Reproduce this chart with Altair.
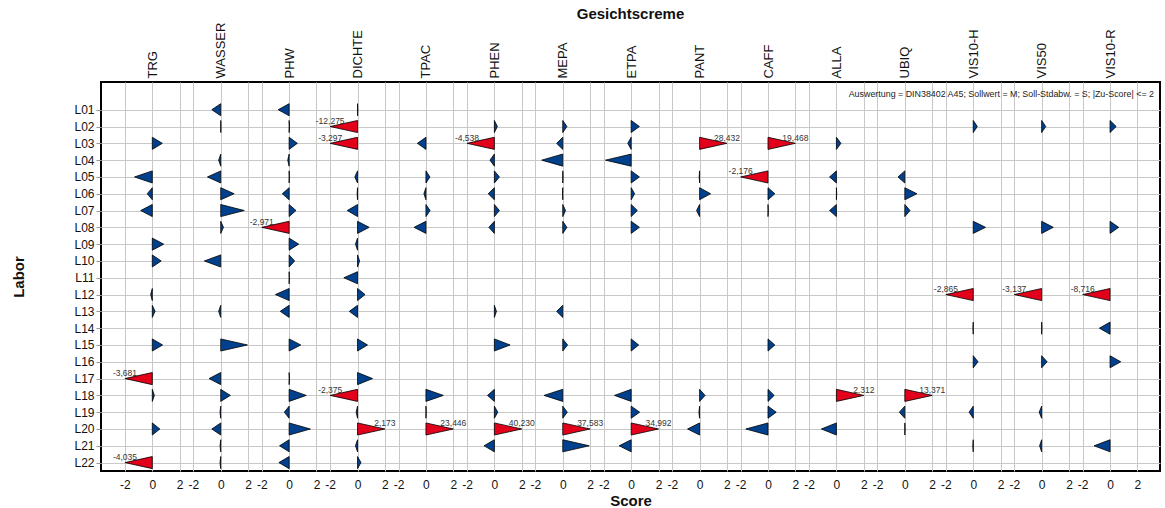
import altair as alt
import pandas as pd

# ---------------- data (z-scores) ----------------
analytes = ["TRG", "WASSER", "PHW", "DICHTE", "TPAC", "PHEN", "MEPA", "ETPA",
            "PANT", "CAFF", "ALLA", "UBIQ", "VIS10-H", "VIS50", "VIS10-R"]
labs = [f"L{i:02d}" for i in range(1, 23)]

N = None
trg    = [N, N, 0.73, N, -1.3, -0.37, -0.85, N, 0.83, 0.65, N, -0.12, 0.2, N, 0.75, N, -3.681, 0.15, N, 0.55, N, -4.035]
wasser = [-0.65, 0.02, N, -0.15, -0.97, 0.98, 1.72, 0.2, N, -1.2, N, N, -0.15, N, 1.95, N, -0.85, 0.7, -0.05, -0.65, -0.05, -0.05]
phw    = [-0.8, 0.03, 0.6, -0.1, 0.02, -0.5, 0.5, -2.971, 0.7, 0.4, 0.02, -1.0, -0.65, N, 0.85, N, 0.03, 1.25, -0.35, 1.55, -0.7, -0.75]
dichte = [0.02, -12.275, -3.297, N, -0.2, -0.03, -0.75, 0.85, -0.15, 0.15, -1.0, 0.55, -0.6, N, 0.73, N, 1.1, -2.375, -0.1, 2.173, -0.15, 0.25]
tpac   = [N, N, -0.63, N, 0.29, -0.15, 0.3, -0.87, N, N, N, N, N, N, N, N, N, 1.27, 0.02, 23.446, N, N]
phen   = [N, 0.22, -4.538, -0.32, 0.37, -0.45, 0.37, -0.4, N, N, N, N, 0.15, N, 1.15, N, N, -0.5, 0.25, 40.230, -0.75, N]
mepa   = [N, 0.3, -0.45, -1.54, 0.02, -0.02, 0.2, 0.3, N, N, N, N, -0.45, N, 0.35, N, N, -1.37, 0.33, 37.583, 1.93, N]
etpa   = [N, 0.6, -0.25, -1.88, 0.6, 0.25, 0.45, 0.6, N, N, N, N, N, N, 0.55, N, N, -1.22, 0.62, 34.992, -0.88, N]
pant   = [N, N, 28.432, N, -0.03, 0.8, -0.22, N, N, N, N, N, N, N, N, N, N, 0.4, -0.05, -0.88, N, N]
caff   = [N, N, 19.468, N, -2.176, 0.5, 0.02, N, N, N, N, N, N, N, 0.5, N, N, 0.45, 0.6, -1.62, N, N]
alla   = [N, N, 0.33, N, -0.5, 0.02, -0.5, N, N, N, N, N, N, N, N, N, N, 2.312, N, -1.1, N, N]
ubiq   = [N, N, N, N, -0.5, 0.88, 0.38, N, N, N, N, N, N, N, N, N, N, 13.371, -0.4, 0.02, N, N]
vis10h = [N, 0.3, N, N, N, N, N, 0.9, N, N, N, -2.865, N, -0.02, N, 0.35, N, N, -0.3, N, -0.03, N]
vis50  = [N, 0.3, N, N, N, N, N, 0.85, N, N, N, -3.137, N, 0.02, N, 0.4, N, N, -0.18, N, -0.15, N]
vis10r = [N, 0.45, N, N, N, N, N, 0.63, N, N, N, -8.716, N, -0.78, N, 0.78, N, N, N, N, -1.17, N]

series = [trg, wasser, phw, dichte, tpac, phen, mepa, etpa, pant, caff, alla, ubiq, vis10h, vis50, vis10r]

NOTE = "Auswertung = DIN38402 A45; Sollwert = M; Soll-Stdabw. = S; |Zu-Score| <= 2"
LIMIT = 2.0      # |z| limit
SPACING = 5.0    # score units between analyte panels
HALF = 0.36      # half height of a triangle base (in rows)

RED = "#e2001a"
BLUE = "#00408c"
FONT = "Liberation Sans"

# ---------------- tables built from the arrays ----------------
tri_rows, lbl_rows = [], []
for k, (name, vals) in enumerate(zip(analytes, series)):
    base = k * SPACING
    for i, v in enumerate(vals):
        if v is None:
            continue
        tip = max(-LIMIT, min(LIMIT, v))
        cls = "out" if abs(v) > LIMIT else "in"
        tid = f"{name}-{i}"
        row = i + 1
        tri_rows.append({"id": tid, "x": base, "y": row - HALF, "y2": row + HALF, "cls": cls})
        tri_rows.append({"id": tid, "x": base + tip, "y": row, "y2": row, "cls": cls})
        if cls == "out":
            lbl_rows.append({"x": base + tip, "y": row, "txt": f"{v:.3f}".replace(".", ",")})

tri_df = pd.DataFrame(tri_rows)
lbl_df = pd.DataFrame(lbl_rows)
panel_df = pd.DataFrame({"xc": [k * SPACING for k in range(len(analytes))]})
note_df = pd.DataFrame({"t": [NOTE]})

x_dom = [-3.75, (len(analytes) - 1) * SPACING + 3.65]
x_scale = alt.Scale(domain=x_dom, nice=False, zero=False)
y_scale = alt.Scale(domain=[-0.65, 22.5], reverse=True, nice=False, zero=False)

tick_vals = [k * SPACING + d for k in range(len(analytes)) for d in (-2, 0, 2)]
names_js = "[" + ",".join(f"'{a}'" for a in analytes) + "]"
labs_js = "[" + ",".join(f"'{l}'" for l in labs) + "]"

x_axis = alt.Axis(values=tick_vals,
                  labelExpr="'' + round(((datum.value + 2.5) % 5) - 2.5)",
                  grid=True, gridColor="#c8c8c8", gridWidth=1,
                  ticks=False, domain=False, labelFontSize=12, labelPadding=8,
                  labelOverlap=False, labelFlush=False,
                  title="Score", titleFontSize=15, titleFontWeight="bold", titlePadding=3)

y_axis = alt.Axis(values=list(range(1, 23)), tickCount=22,
                  labelExpr=labs_js + "[datum.value - 1]",
                  grid=True, gridColor="#c8c8c8", gridWidth=1,
                  domain=False, tickColor="#999999", tickSize=5,
                  labelFontSize=12, labelPadding=2, labelOverlap=False,
                  title="Labor", titleFontSize=15, titleFontWeight="bold",
                  titleX=-83, titleY=194.5, titleAngle=270,
                  titleBaseline="middle", titleAlign="center")

top_axis = alt.Axis(orient="top", values=panel_df["xc"].tolist(),
                    labelExpr=names_js + "[round(datum.value / 5)]",
                    labelAngle=270, grid=False, ticks=False, domain=False,
                    labelFontSize=13, labelPadding=4, labelOverlap=False, title=None)

tri = alt.Chart(tri_df).mark_area(orient="vertical", stroke="black", strokeWidth=0.8,
                                  interpolate="linear").encode(
    x=alt.X("x:Q", scale=x_scale, axis=x_axis),
    y=alt.Y("y:Q", scale=y_scale, axis=y_axis, stack=False),
    y2="y2:Q",
    detail="id:N",
    color=alt.Color("cls:N", scale=alt.Scale(domain=["in", "out"], range=[BLUE, RED]), legend=None),
)

lbl = alt.Chart(lbl_df).mark_text(font=FONT, fontSize=8.5, color="#333333", dy=-5.5,
                                  align="center", baseline="middle").encode(
    x=alt.X("x:Q", scale=x_scale, axis=None),
    y=alt.Y("y:Q", scale=y_scale, axis=y_axis),
    text="txt:N",
)

note = alt.Chart(note_df).mark_text(font=FONT, fontSize=8.9, color="#222222",
                                    align="right", baseline="middle").encode(
    x=alt.value(1053), y=alt.value(12), text="t:N")

top = alt.Chart(panel_df).mark_point(opacity=0).encode(
    x=alt.X("xc:Q", scale=x_scale, axis=top_axis))

chart = alt.layer(tri, lbl, note, top).resolve_scale(x="independent").properties(
    width=1059, height=389,
    autosize=alt.AutoSizeParams(type="none"),
    padding={"left": 101, "top": 82, "right": 5, "bottom": 37},
    title=alt.Title("Gesichtscreme", fontSize=15, fontWeight="bold", anchor="middle",
                    font=FONT, offset=0, color="#111111"),
).configure_view(stroke="black", strokeWidth=2).configure_axis(
    labelFont=FONT, titleFont=FONT, labelColor="#111111", titleColor="#111111")

chart.save("out.html", embed_options={"renderer": "svg", "actions": False})
